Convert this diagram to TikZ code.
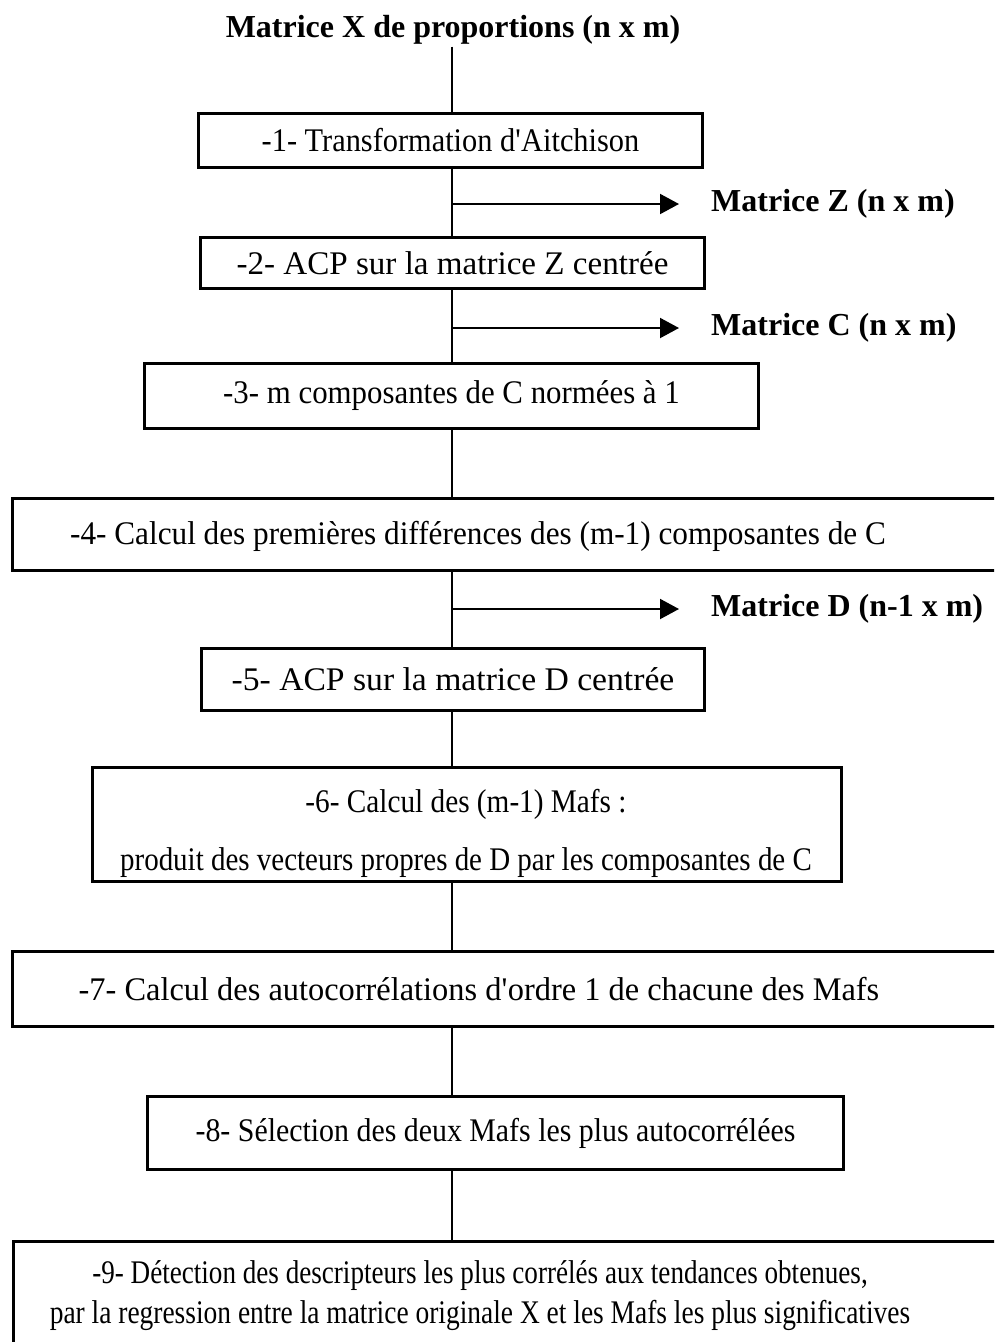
\documentclass[tikz,border=0pt]{standalone}
\usepackage{fontspec}
\setmainfont{Liberation Serif}
\newfontfamily\stepfont{Liberation Serif}[FakeStretch=0.92]
\usetikzlibrary{arrows.meta}
% horizontal stretch of one line of text
\newcommand{\hstretch}[2]{\scalebox{#1}[1]{#2}}

\begin{document}
\begin{tikzpicture}[x=1pt,y=-1pt,
  stepfont/.style={font=\stepfont\fontsize{33}{40}\selectfont},
  stepbox/.style={draw, line width=3pt, inner sep=0pt, stepfont, align=center},
  steptext/.style={inner sep=0pt, stepfont, align=center},
  matlabel/.style={anchor=west, inner sep=3pt, font=\bfseries\fontsize{32}{38}\selectfont},
  link/.style={line width=1.5pt},
  outarrow/.style={line width=2pt, -{Triangle[length=19pt,width=20pt]}}
]
\path[use as bounding box, clip] (0,0) rectangle (994,1342);

% vertical trunk of the flow
\coordinate (trunk) at (452,0);

% input matrix
\node[inner sep=2pt, font=\bfseries\fontsize{32}{38}\selectfont] (title) at (453,30)
  {Matrice X de proportions (n x m)};

% processing steps
\node[stepbox, minimum width=504pt, minimum height=54pt] (b1) at (450.5,140.5)
  {-1- Transformation d\textquotesingle Aitchison};
\node[stepbox, minimum width=504pt, minimum height=51pt] (b2) at (452.5,263)
  {\hstretch{1.09}{-2- ACP sur la matrice Z centrée}};
\node[stepbox, minimum width=614pt, minimum height=65pt] (b3) at (451.5,396)
  {\hstretch{1.016}{-3- m composantes de C normées à 1}};
\node[stepbox, minimum width=997.5pt, minimum height=72pt] (b4) at (511.25,534.5) {};
\node[steptext] (t4) at (478,536)
  {\hstretch{1.029}{-4- Calcul des premières différences des (m-1) composantes de C}};
\node[stepbox, minimum width=503pt, minimum height=62pt] (b5) at (453,679.5)
  {\hstretch{1.108}{-5- ACP sur la matrice D centrée}};
\node[stepbox, minimum width=749pt, minimum height=114pt] (b6) at (467,824.5) {};
\node[steptext, font=\stepfont\fontsize{33}{58}\selectfont] (t6) at (466,833)
  {\hstretch{0.964}{-6- Calcul des (m-1) Mafs :}\\
   \hstretch{0.954}{produit des vecteurs propres de D par les composantes de C}};
\node[stepbox, minimum width=997.5pt, minimum height=75pt] (b7) at (511.25,989) {};
\node[steptext] (t7) at (479,989)
  {\hstretch{1.067}{-7- Calcul des autocorrélations d\textquotesingle ordre 1 de chacune des Mafs}};
\node[stepbox, minimum width=696pt, minimum height=73pt] (b8) at (495.5,1133)
  {\hstretch{0.984}{-8- Sélection des deux Mafs les plus autocorrélées}};
\node[stepbox, minimum width=996.5pt, minimum height=118.5pt] (b9) at (511.75,1300.75) {};
\node[steptext, font=\stepfont\fontsize{33}{40}\selectfont] (t9) at (480,1296)
  {\hstretch{0.893}{-9- Détection des descripteurs les plus corrélés aux tendances obtenues,}\\
   \hstretch{0.904}{par la regression entre la matrice originale X et les Mafs les plus significatives}};

% intermediate matrices
\node[matlabel] (mz) at (708,204) {Matrice Z (n x m)};
\node[matlabel] (mc) at (708,328) {Matrice C (n x m)};
\node[matlabel] (md) at (708,609) {Matrice D (n-1 x m)};

% links between steps
\draw[link] (trunk |- title.south) -- (trunk |- b1.north);
\draw[link] (trunk |- b1.south) -- (trunk |- b2.north);
\draw[link] (trunk |- b2.south) -- (trunk |- b3.north);
\draw[link] (trunk |- b3.south) -- (trunk |- b4.north);
\draw[link] (trunk |- b4.south) -- (trunk |- b5.north);
\draw[link] (trunk |- b5.south) -- (trunk |- b6.north);
\draw[link] (trunk |- b6.south) -- (trunk |- b7.north);
\draw[link] (trunk |- b7.south) -- (trunk |- b8.north);
\draw[link] (trunk |- b8.south) -- (trunk |- b9.north);

% outputs
\draw[outarrow] (trunk |- mz.west) -- ([xshift=-29pt]mz.west);
\draw[outarrow] (trunk |- mc.west) -- ([xshift=-29pt]mc.west);
\draw[outarrow] (trunk |- md.west) -- ([xshift=-29pt]md.west);
\end{tikzpicture}
\end{document}
